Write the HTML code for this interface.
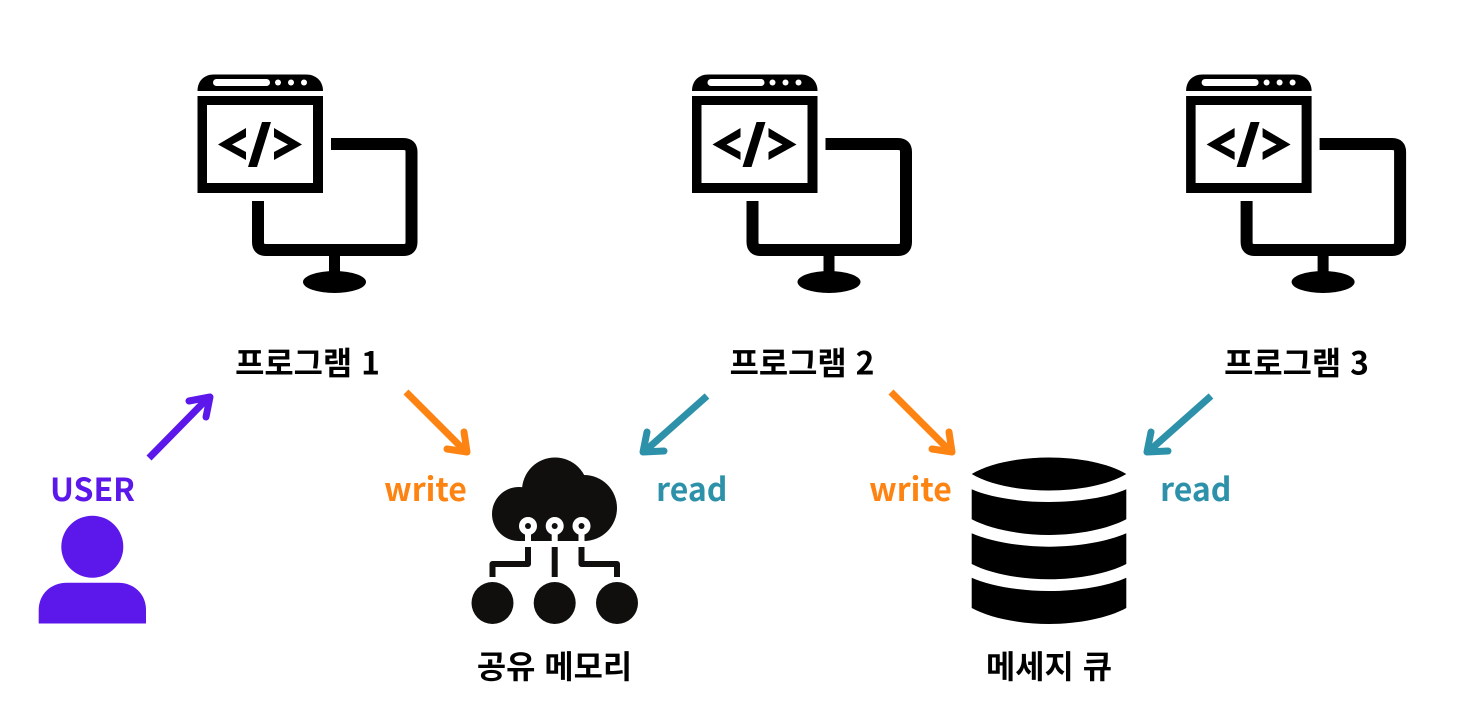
<!DOCTYPE html>
<html lang="ko">
<head>
<meta charset="utf-8">
<style>
html,body{margin:0;padding:0;background:#fff}
svg{display:block}
.t{font-family:"Noto Sans CJK KR","Liberation Sans",sans-serif;font-weight:700}
</style>
</head>
<body>
<svg width="1479" height="715" viewBox="0 0 1479 715" xmlns="http://www.w3.org/2000/svg">
<defs>
<g id="pc">
  <path d="M197.500 91 C197.500 81 204 74.500 214 74.500 H306 C316 74.500 323 81 323 91 Z" fill="#000"/>
  <rect x="213" y="79" width="57" height="7" rx="3.500" fill="#fff"/>
  <circle cx="278" cy="82.500" r="3" fill="#fff"/><circle cx="291" cy="82.500" r="3" fill="#fff"/><circle cx="304" cy="82.500" r="3" fill="#fff"/>
  <path fill-rule="evenodd" d="M197.500 96 H323 V193 H197.500 Z M207 105 V183 H313 V105 Z" fill="#000"/>
  <path d="M246 128 V137 L232 144.500 L246 152 V160 L218 144.500 Z" fill="#000"/>
  <path d="M274 128 V137 L288 144.500 L274 152 V160 L302 144.500 Z" fill="#000"/>
  <path d="M262 122 H271 L257 167 H248 Z" fill="#000"/>
  <path d="M331 144 H403.500 Q411.500 144 411.500 152 V242 Q411.500 250 403.500 250 H266 Q258 250 258 242 V201" fill="none" stroke="#000" stroke-width="12"/>
  <rect x="329" y="255" width="11" height="20" fill="#000"/>
  <ellipse cx="334.500" cy="282" rx="31.500" ry="11" fill="#000"/>
</g>
</defs>

<use href="#pc"/>
<use href="#pc" x="494.500"/>
<use href="#pc" x="988.600"/>

<g font-size="31.800" fill="#000" text-anchor="middle">
  <text class="t" x="307.500" y="374.600">프로그램 1</text>
  <text class="t" x="802" y="374.600">프로그램 2</text>
  <text class="t" x="1296.500" y="374.600">프로그램 3</text>
  <text class="t" x="554.500" y="678">공유 메모리</text>
  <text class="t" x="1049" y="678">메세지 큐</text>
</g>
<g font-size="32" text-anchor="middle">
  <text class="t" x="92.500" y="501" fill="#5c17ea">USER</text>
  <text class="t" x="425.500" y="501" fill="#fd8412">write</text>
  <text class="t" x="691.800" y="501" fill="#2e91aa">read</text>
  <text class="t" x="910.500" y="501" fill="#fd8412">write</text>
  <text class="t" x="1195.800" y="501" fill="#2e91aa">read</text>
</g>

<!-- arrows -->
<g fill="none" stroke-width="7" stroke-linejoin="round">
  <g stroke="#5c17ea">
    <path d="M149 458 L208 398"/>
    <path d="M189 401 L210 397 L206 417" stroke-linecap="round"/>
  </g>
  <g stroke="#fd8412">
    <path d="M406 392 L465 451"/>
    <path d="M447 449 L467 452 L464 432" stroke-linecap="round"/>
    <path d="M891 392 L950 451"/>
    <path d="M932 449 L952 452 L949 432" stroke-linecap="round"/>
  </g>
  <g stroke="#2e91aa">
    <path d="M707 396 L645 451"/>
    <path d="M647 432 L643 452 L664 451" stroke-linecap="round"/>
    <path d="M1211 396 L1149 451"/>
    <path d="M1151 432 L1147 452 L1168 451" stroke-linecap="round"/>
  </g>
</g>

<!-- user -->
<circle cx="92.300" cy="546.700" r="31" fill="#5c17ea"/>
<path d="M38.700 623.500 V610 C38.700 594 51 582.700 67 582.700 H118 C134 582.700 146 594 146 610 V623.500 Z" fill="#5c17ea"/>

<!-- cloud -->
<g fill="#100f0d">
  <circle cx="519" cy="514" r="27"/>
  <circle cx="555" cy="490.500" r="33"/>
  <circle cx="584" cy="508" r="33"/>
  <rect x="519" y="500" width="65" height="41"/>
  <circle cx="492.500" cy="603" r="21"/>
  <circle cx="554.700" cy="603" r="21"/>
  <circle cx="617" cy="603" r="21"/>
</g>
<g fill="#fff">
  <circle cx="528" cy="526" r="9"/><circle cx="554.700" cy="526" r="9"/><circle cx="581.500" cy="526" r="9"/>
  <rect x="525" y="530" width="6" height="12"/><rect x="551.700" y="530" width="6" height="12"/><rect x="578.500" y="530" width="6" height="12"/>
</g>
<g fill="#100f0d">
  <circle cx="528" cy="526" r="3"/><circle cx="554.700" cy="526" r="3"/><circle cx="581.500" cy="526" r="3"/>
</g>
<g fill="none" stroke="#100f0d" stroke-width="6" stroke-linejoin="round">
  <path d="M528 547 V564 H492.500 V577"/>
  <path d="M554.700 547 V577"/>
  <path d="M581.500 547 V564 H617 V577"/>
</g>

<!-- database -->
<g fill="#000">
  <path d="M971.700 474 C990 463 1020 457.500 1049 457.500 S1108 463 1126.300 474 C1108 485 1078 490.500 1049 490.500 S990 485 971.700 474 Z"/>
  <path d="M971.700 489.300 C990 497.500 1020 502 1049 502 S1108 497.500 1126.300 489.300 V519.300 C1108 529 1078 535 1049 535 S990 529 971.700 519.300 Z"/>
  <path d="M971.700 533.300 C990 541.500 1020 546.700 1049 546.700 S1108 541.500 1126.300 533.300 V564 C1108 573.500 1078 579.300 1049 579.300 S990 573.500 971.700 564 Z"/>
  <path d="M971.700 577.700 C990 586 1020 591 1049 591 S1108 586 1126.300 577.700 V608 C1108 618 1078 624 1049 624 S990 618 971.700 608 Z"/>
</g>
</svg>
</body>
</html>
